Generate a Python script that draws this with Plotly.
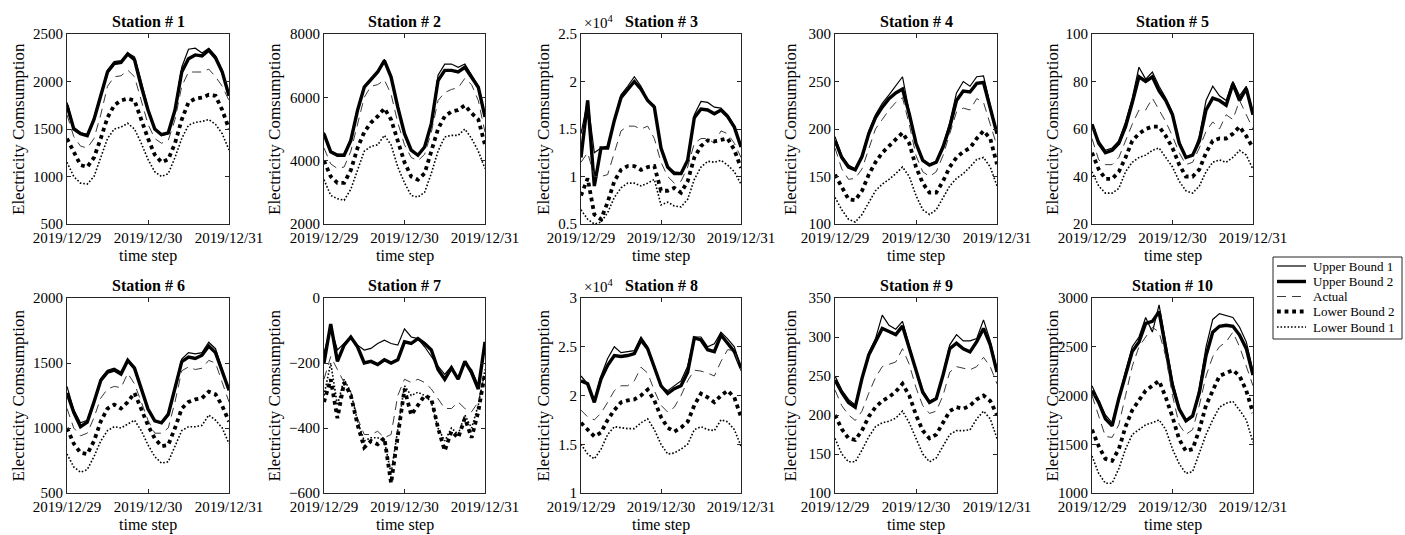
import pandas as pd
import plotly.graph_objects as go

# ---------------- data (every 2 hours, 2019/12/29 00:00 -> 2019/12/31 00:00) ----------------
times = pd.date_range("2019-12-29 00:00", periods=25, freq="2h")
series_names = ["Upper Bound 1", "Upper Bound 2", "Actual", "Lower Bound 2", "Lower Bound 1"]
x_tick_vals = ["2019-12-29", "2019-12-30", "2019-12-31"]
x_tick_text = ["2019/12/29", "2019/12/30", "2019/12/31"]

s1_ub1 = [1780,1520,1460,1440,1620,1880,2120,2210,2220,2300,2260,2000,1720,1510,1430,1450,1720,2150,2340,2350,2300,2350,2270,2120,1850]
s1_ub2 = [1750,1500,1450,1430,1600,1850,2100,2190,2200,2290,2230,1950,1700,1500,1440,1460,1700,2100,2240,2280,2270,2330,2250,2100,1850]
s1_act = [1650,1420,1320,1300,1400,1650,1950,2050,2060,2120,2050,1800,1550,1400,1350,1380,1600,1950,2100,2100,2100,2130,2050,1950,1800]
s1_lb2 = [1400,1250,1120,1100,1200,1400,1620,1750,1800,1820,1800,1600,1400,1230,1150,1180,1350,1600,1780,1820,1830,1860,1850,1700,1500]
s1_lb1 = [1150,1000,930,920,1000,1200,1400,1500,1520,1560,1500,1350,1180,1050,1000,1030,1200,1400,1540,1570,1580,1600,1550,1450,1280]

s2_ub1 = [4900,4300,4200,4200,4700,5650,6350,6600,6800,7200,6700,5700,4850,4330,4170,4450,5200,6700,7050,7050,6950,7050,6700,6350,5400]
s2_ub2 = [4850,4280,4170,4170,4640,5590,6320,6580,6800,7160,6640,5690,4850,4330,4170,4430,5170,6530,6850,6850,6800,6950,6640,6320,5380]
s2_act = [4400,3900,3750,3800,4300,5200,6000,6350,6400,6550,6100,5200,4500,4100,4000,4200,4900,5900,6150,6250,6300,6600,6400,5900,4900]
s2_lb2 = [4000,3500,3300,3300,3700,4400,4900,5200,5400,5650,5300,4600,3950,3500,3400,3600,4300,5000,5400,5550,5600,5750,5500,5300,4500]
s2_lb1 = [3400,2900,2800,2750,3100,3700,4300,4450,4500,4800,4500,3800,3300,2900,2850,3000,3600,4300,4750,4800,4800,5000,4700,4300,3750]

s3_ub1 = [14500,18000,12500,13000,13200,16000,18600,19500,20500,19500,18000,17500,13000,11000,10500,10400,11800,16500,17900,17800,17300,17200,16500,15300,13100]
s3_ub2 = [12000,18000,9000,13000,13000,15900,18300,19200,20000,19200,18000,17300,13000,11000,10300,10300,11700,16200,17100,17000,16600,17000,16300,15200,13100]
s3_act = [11500,12500,10000,10000,10200,12500,14800,15300,15300,15000,15300,14000,11500,10000,9300,9500,11000,13500,14000,14000,13500,14800,14500,13500,12000]
s3_lb2 = [8000,9800,6000,5500,7300,9500,10700,11100,11100,10700,11000,11100,8500,8500,8800,8300,9500,12000,13200,13800,13700,13800,14000,12800,10900]
s3_lb1 = [6500,5500,5000,5200,6200,7800,8800,9300,9300,9000,9300,9700,7000,7300,6900,6800,7600,9700,11000,11600,11500,11700,11200,10500,9200]

s4_ub1 = [192,172,162,158,172,198,215,227,236,245,255,218,186,168,163,166,183,207,238,250,245,255,256,225,196]
s4_ub2 = [188,170,160,157,171,195,212,223,232,238,242,216,185,167,162,165,181,202,230,240,239,248,249,223,195]
s4_act = [180,158,147,148,158,180,200,210,220,228,233,205,172,155,150,155,172,195,218,222,220,232,228,205,182]
s4_lb2 = [152,138,126,125,135,152,165,175,182,190,196,185,160,143,133,133,145,160,170,176,180,190,198,190,163]
s4_lb1 = [128,115,105,102,110,122,135,142,147,153,160,150,130,115,110,115,128,140,148,153,160,168,170,160,140]

s5_ub1 = [62,55,51,52,55,63,73,86,81,84,78,73,67,55,48,49,57,72,78,74,72,80,74,78,67]
s5_ub2 = [62,54,50,51,54,61,71,82,80,82,76,72,66,54,48,49,55,68,73,72,70,79,72,77,66]
s5_act = [56,47,45,45,48,55,62,68,68,73,68,63,57,50,45,46,52,59,63,60,66,64,72,66,60]
s5_lb2 = [50,43,39,39,42,48,55,58,60,61,61,57,52,45,40,40,43,50,55,56,56,58,61,57,52]
s5_lb1 = [42,36,33,33,35,42,46,48,49,51,52,48,44,38,34,33,36,42,46,47,46,48,51,49,43]

s6_ub1 = [1320,1140,1040,1060,1210,1380,1445,1460,1430,1520,1470,1310,1150,1060,1040,1110,1310,1530,1580,1570,1580,1660,1610,1450,1290]
s6_ub2 = [1270,1120,1010,1045,1200,1365,1430,1445,1415,1520,1460,1300,1145,1055,1040,1105,1300,1510,1545,1535,1560,1630,1580,1430,1290]
s6_act = [1150,1000,940,960,1080,1230,1300,1320,1310,1420,1340,1200,1060,960,960,1000,1200,1440,1470,1450,1460,1520,1500,1350,1200]
s6_lb2 = [1000,880,810,800,900,1050,1150,1180,1150,1200,1270,1150,1020,920,860,870,1000,1150,1200,1220,1230,1280,1260,1170,1050]
s6_lb1 = [800,700,660,680,780,900,980,1010,1000,1030,1060,980,870,780,730,740,860,980,1010,1010,1020,1100,1060,1000,880]

s7_ub1 = [-170,-90,-160,-140,-120,-145,-160,-155,-140,-130,-140,-145,-95,-120,-125,-150,-180,-210,-235,-210,-250,-200,-220,-270,-140]
s7_ub2 = [-200,-80,-195,-145,-120,-150,-200,-195,-205,-190,-200,-190,-135,-140,-125,-140,-160,-220,-250,-215,-250,-195,-230,-280,-135]
s7_act = [-250,-180,-220,-260,-290,-370,-420,-420,-410,-430,-420,-300,-250,-260,-250,-260,-280,-310,-340,-340,-320,-340,-350,-320,-230]
s7_lb2 = [-320,-250,-370,-260,-300,-390,-460,-440,-450,-430,-570,-420,-280,-360,-330,-300,-310,-400,-470,-410,-430,-370,-430,-350,-230]
s7_lb1 = [-300,-200,-330,-250,-290,-380,-440,-430,-430,-440,-540,-400,-270,-300,-290,-300,-320,-400,-440,-400,-420,-360,-400,-330,-220]

s8_ub1 = [22000,21200,19500,22000,23800,25000,24400,24500,24600,26000,25000,22800,20900,20500,21000,21500,23000,26000,26000,25000,25300,26500,25800,25000,22800]
s8_ub2 = [21500,21200,19300,21700,23100,24100,24000,24100,24300,25700,24800,22800,21000,20200,20700,21000,22400,25900,25700,24700,24500,26200,25400,24500,22800]
s8_act = [18500,17800,17500,18200,19300,20500,21000,21000,21500,22900,22300,20500,19000,18300,18800,20000,21500,22600,22500,22300,22000,23500,24700,24600,22500]
s8_lb2 = [17200,16500,15800,16200,17500,18500,19300,19500,19600,20000,20600,19500,17800,16700,16300,16700,17300,19000,20200,19800,19300,20000,20500,19800,17800]
s8_lb1 = [15000,14000,13500,14500,16000,16800,16700,16600,16600,17200,17600,16500,15000,14000,14100,14500,15000,16500,16800,16500,16400,17500,17300,16500,14800]

s9_ub1 = [250,232,220,213,245,280,298,328,315,310,320,290,258,232,218,222,253,290,303,295,295,298,322,295,258]
s9_ub2 = [245,229,216,210,247,277,294,311,307,303,314,285,255,229,216,221,251,285,292,285,281,294,311,290,255]
s9_act = [232,212,200,193,205,228,248,262,265,268,285,265,235,212,202,205,225,255,262,260,258,262,274,262,240]
s9_lb2 = [200,182,170,168,180,198,210,218,223,230,240,225,200,180,170,175,190,205,210,208,212,220,225,218,200]
s9_lb1 = [170,150,140,140,155,172,185,190,192,196,205,190,170,150,140,145,160,175,180,180,181,195,205,195,170]

s10_ub1 = [2100,1950,1800,1720,2000,2250,2500,2600,2800,2650,2930,2550,2150,1880,1730,1780,2080,2500,2780,2840,2820,2800,2700,2550,2250]
s10_ub2 = [2050,1930,1760,1690,1970,2210,2450,2550,2740,2760,2860,2480,2100,1860,1740,1790,2030,2410,2650,2710,2720,2710,2620,2480,2210]
s10_act = [2000,1800,1580,1570,1700,2000,2300,2500,2600,2700,2650,2400,2000,1700,1600,1650,1900,2200,2400,2500,2550,2650,2500,2300,2100]
s10_lb2 = [1650,1480,1350,1330,1450,1680,1850,1950,2050,2100,2150,1980,1780,1550,1430,1450,1650,1900,2050,2200,2230,2260,2200,2050,1820]
s10_lb1 = [1380,1200,1100,1100,1250,1450,1600,1650,1700,1720,1750,1650,1450,1300,1200,1220,1400,1600,1750,1880,1920,1940,1850,1750,1520]

y_ranges = [[500, 2500], [2000, 8000], [5000, 25000], [100, 300], [20, 100],
            [500, 2000], [-600, 0], [10000, 30000], [100, 350], [1000, 3000]]
y_ticks = [[500, 1000, 1500, 2000, 2500], [2000, 4000, 6000, 8000],
           [5000, 10000, 15000, 20000, 25000], [100, 150, 200, 250, 300],
           [20, 40, 60, 80, 100], [500, 1000, 1500, 2000], [-600, -400, -200, 0],
           [10000, 15000, 20000, 25000, 30000], [100, 150, 200, 250, 300, 350],
           [1000, 1500, 2000, 2500, 3000]]
y_ticktext = [None, None, ["0.5", "1", "1.5", "2", "2.5"], None, None,
              None, None, ["1", "1.5", "2", "2.5", "3"], None, None]

stations = [
    [s1_ub1, s1_ub2, s1_act, s1_lb2, s1_lb1],
    [s2_ub1, s2_ub2, s2_act, s2_lb2, s2_lb1],
    [s3_ub1, s3_ub2, s3_act, s3_lb2, s3_lb1],
    [s4_ub1, s4_ub2, s4_act, s4_lb2, s4_lb1],
    [s5_ub1, s5_ub2, s5_act, s5_lb2, s5_lb1],
    [s6_ub1, s6_ub2, s6_act, s6_lb2, s6_lb1],
    [s7_ub1, s7_ub2, s7_act, s7_lb2, s7_lb1],
    [s8_ub1, s8_ub2, s8_act, s8_lb2, s8_lb1],
    [s9_ub1, s9_ub2, s9_act, s9_lb2, s9_lb1],
    [s10_ub1, s10_ub2, s10_act, s10_lb2, s10_lb1],
]

# ---------------- styling / layout ----------------
W, H = 1405, 535
FONT = "Liberation Serif"
AX = "#262626"
line_styles = [
    dict(color="black", width=1.2),
    dict(color="black", width=3.4),
    dict(color="#3a3a3a", width=1, dash="9px,6px"),
    dict(color="black", width=3.8, dash="dot"),
    dict(color="black", width=1.6, dash="1.6px,1.9px"),
]

col_px = [(67, 229), (324, 485), (581, 741), (835, 997), (1092, 1253)]
row_px = [(34, 224), (298, 493)]
ylabel_x = [18, 274, 543, 790, 1052]

def fx(p):
    return p / W

def fy(p):
    return 1 - p / H

fig = go.Figure()
annotations = []
shapes = []
layout = {}
for i, st in enumerate(stations):
    r, c = divmod(i, 5)
    k = i + 1
    xa = "x" if k == 1 else f"x{k}"
    ya = "y" if k == 1 else f"y{k}"
    for j, vals in enumerate(st):
        fig.add_trace(go.Scatter(
            x=times, y=vals, mode="lines", name=series_names[j],
            line=line_styles[j], xaxis=xa, yaxis=ya, showlegend=False,
        ))
    x0, x1 = col_px[c]
    y0, y1 = row_px[r]
    common = dict(showline=True, mirror="ticks", linecolor=AX, linewidth=1,
                  ticks="inside", ticklen=4, tickcolor=AX, showgrid=False,
                  zeroline=False, automargin=False,
                  tickfont=dict(family=FONT, size=15, color="black"))
    layout[f"xaxis{k}"] = dict(domain=[fx(x0), fx(x1)], anchor=ya, type="date",
                               range=["2019-12-29", "2019-12-31"],
                               tickvals=x_tick_vals, ticktext=x_tick_text, **common)
    yd = dict(domain=[fy(y1), fy(y0)], anchor=xa, range=y_ranges[i],
              tickvals=y_ticks[i], **common)
    if y_ticktext[i] is not None:
        yd["ticktext"] = y_ticktext[i]
    layout[f"yaxis{k}"] = yd
    cx = (x0 + x1) / 2
    annotations.append(dict(text=f"<b>Station # {k}</b>", x=fx(cx), y=fy(y0 - 13),
                            xref="paper", yref="paper", showarrow=False,
                            xanchor="center", yanchor="middle",
                            font=dict(family=FONT, size=16, color="black")))
    annotations.append(dict(text="time step", x=fx(cx), y=fy(y1 + 32),
                            xref="paper", yref="paper", showarrow=False,
                            xanchor="center", yanchor="middle",
                            font=dict(family=FONT, size=16, color="black")))
    annotations.append(dict(text="Electricity Comsumption", x=fx(ylabel_x[c]),
                            y=fy((y0 + y1) / 2), xref="paper", yref="paper",
                            showarrow=False, textangle=-90, xanchor="center",
                            yanchor="middle",
                            font=dict(family=FONT, size=17, color="black")))
    if y_ticktext[i] is not None:
        annotations.append(dict(text="\u00d710<sup>4</sup>", x=fx(x0 + 1), y=fy(y0 - 12),
                                xref="paper", yref="paper", showarrow=False,
                                xanchor="left", yanchor="middle",
                                font=dict(family=FONT, size=15, color="black")))

# ---------------- legend (drawn as a box of sample lines and labels) ----------------
leg_left, leg_right, leg_top, leg_bottom = 1273, 1402, 257, 339
leg_rows = [266, 281.5, 296.5, 311.5, 327]
shapes.append(dict(type="rect", xref="paper", yref="paper",
                   x0=fx(leg_left), x1=fx(leg_right), y0=fy(leg_bottom), y1=fy(leg_top),
                   line=dict(color=AX, width=1), fillcolor="white", layer="above"))
for j, name in enumerate(series_names):
    shapes.append(dict(type="line", xref="paper", yref="paper",
                       x0=fx(1277), x1=fx(1306), y0=fy(leg_rows[j]), y1=fy(leg_rows[j]),
                       line=line_styles[j], layer="above"))
    annotations.append(dict(text=name, x=fx(1311), y=fy(leg_rows[j]), xref="paper",
                            yref="paper", showarrow=False, xanchor="left",
                            yanchor="middle",
                            font=dict(family=FONT, size=13, color="black")))

fig.update_layout(
    width=W, height=H, margin=dict(l=0, r=0, t=0, b=0, autoexpand=False),
    paper_bgcolor="white", plot_bgcolor="white", showlegend=False,
    annotations=annotations, shapes=shapes,
    **layout,
)
fig.write_html("out.html")
